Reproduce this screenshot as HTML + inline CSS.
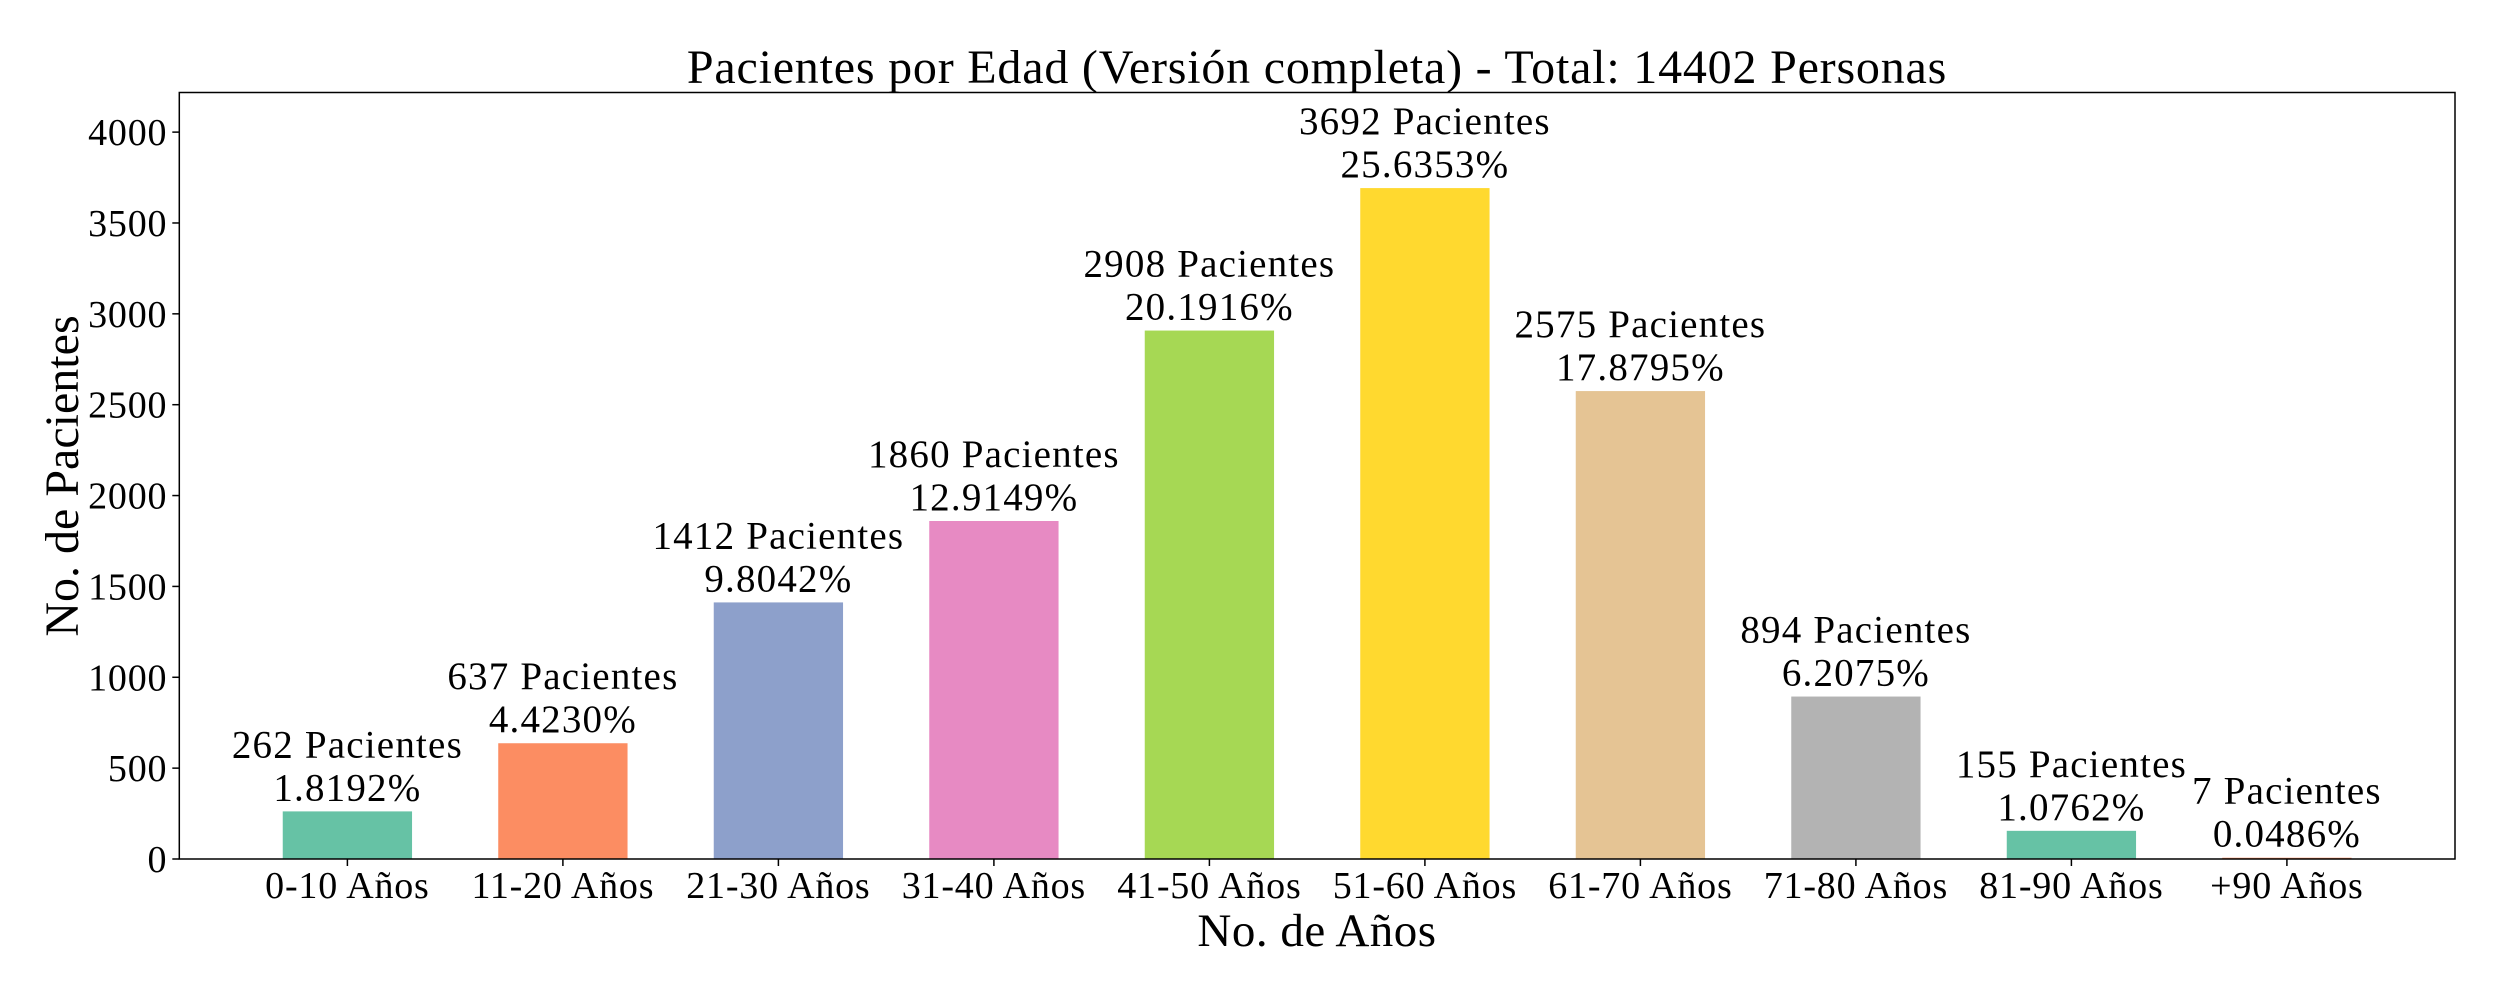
<!DOCTYPE html>
<html><head><meta charset="utf-8"><style>
html,body{margin:0;padding:0;background:#fff;}
svg text{font-family:"Liberation Serif",serif;fill:#000;}
</style></head><body>
<svg id="chart" width="2500" height="1000" xmlns="http://www.w3.org/2000/svg">
<text x="1317" y="83" font-size="48" letter-spacing="0.8" text-anchor="middle">Pacientes por Edad (Versión completa) - Total: 14402 Personas</text>
<text transform="translate(78,476) rotate(-90)" font-size="48" text-anchor="middle">No. de Pacientes</text>
<text x="1317" y="946" font-size="47" letter-spacing="0.5" text-anchor="middle">No. de Años</text>
<g id="plot"></g>
</svg>
<script>
const categories = ["0-10 Años","11-20 Años","21-30 Años","31-40 Años","41-50 Años","51-60 Años","61-70 Años","71-80 Años","81-90 Años","+90 Años"];
const values = [262,637,1412,1860,2908,3692,2575,894,155,7];
const percents = ["1.8192%","4.4230%","9.8042%","12.9149%","20.1916%","25.6353%","17.8795%","6.2075%","1.0762%","0.0486%"];
const yTicks = [0,500,1000,1500,2000,2500,3000,3500,4000];
const colors = ["#66c2a5","#fc8d62","#8da0cb","#e78ac3","#a6d854","#ffd92f","#e5c494","#b3b3b3","#66c2a5","#fc8d62"];

const L=179.3,R=2455,T=92.5,B=859;
const xMin=-0.78,xMax=9.78,yMax=4218;
const xs=i=>L+(i-xMin)/(xMax-xMin)*(R-L);
const ys=v=>B-v/yMax*(B-T);
const bw=0.6*(R-L)/(xMax-xMin);
const NS="http://www.w3.org/2000/svg";
const g=document.getElementById('plot');
function mk(tag,attrs){const e=document.createElementNS(NS,tag);for(const k in attrs)e.setAttribute(k,attrs[k]);g.appendChild(e);return e;}

values.forEach((v,i)=>{
  const r=mk('rect',{x:xs(i)-bw/2,y:ys(v),width:bw,height:B-ys(v),fill:colors[i]});
  
  
  const t1=mk('text',{x:xs(i),y:ys(v)-54,'font-size':39,'letter-spacing':1.2,'text-anchor':'middle'});
  t1.textContent=v+' Pacientes';
  
  
  const t2=mk('text',{x:xs(i),y:ys(v)-11,'font-size':39,'letter-spacing':1.2,'text-anchor':'middle'});
  t2.textContent=percents[i];
  
  
  const tk=mk('line',{x1:xs(i),x2:xs(i),y1:B,y2:B+7,stroke:'#000','stroke-width':1.5});
  
  
  const tl=mk('text',{x:xs(i),y:898,'font-size':38,'letter-spacing':0.8,'text-anchor':'middle'});
  tl.textContent=categories[i];
  
  
});
yTicks.forEach(v=>{
  const tk=mk('line',{x1:L-7,x2:L,y1:ys(v),y2:ys(v),stroke:'#000','stroke-width':1.5});
  
  
  const tl=mk('text',{x:L-12,y:ys(v)+13,'font-size':38,'letter-spacing':0.8,'text-anchor':'end'});
  tl.textContent=v;
  
  
});
const frame=mk('rect',{x:L,y:T,width:R-L,height:B-T,fill:'none',stroke:'#000','stroke-width':1.5});


</script>
</body></html>
